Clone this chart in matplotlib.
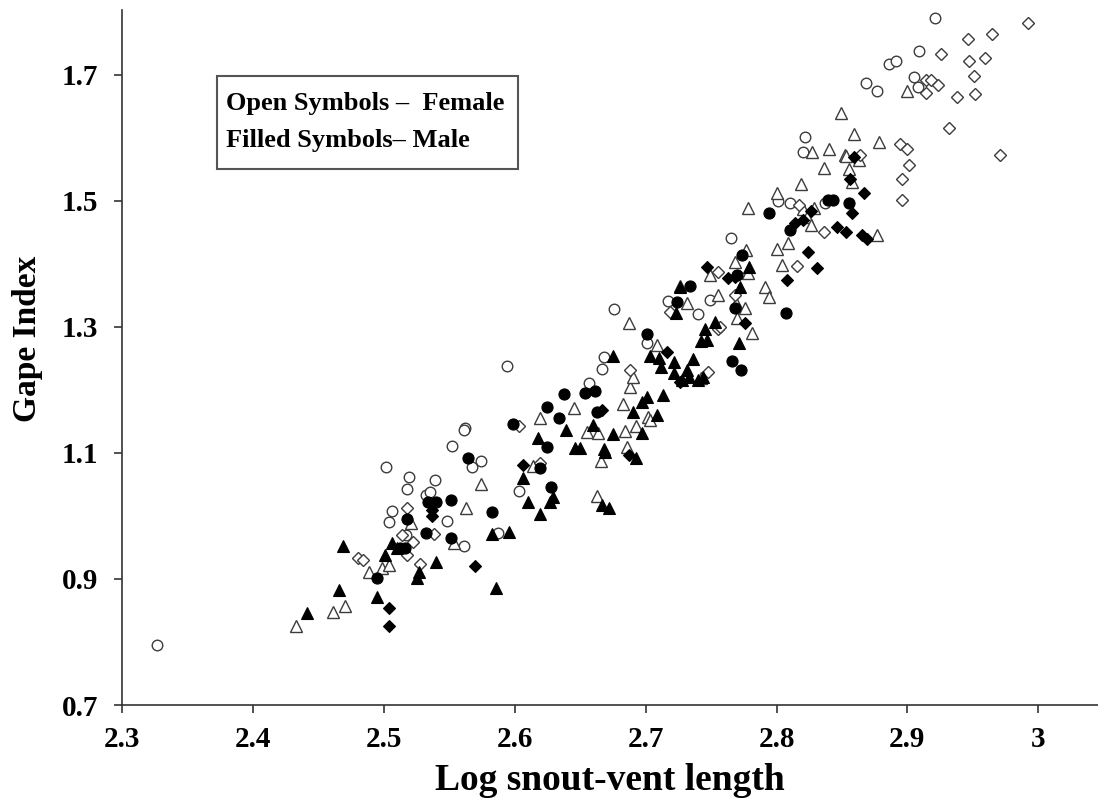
import matplotlib
matplotlib.use("Agg")
import matplotlib.pyplot as plt
from matplotlib.patches import Rectangle

# ---- data (log SVL, gape index) ----
fem_circle_x = [2.327, 2.502, 2.519, 2.518, 2.539, 2.532, 2.535, 2.506, 2.504, 2.517,
                2.548, 2.561, 2.552, 2.562, 2.561, 2.567, 2.574, 2.594, 2.603, 2.587,
                2.667, 2.657, 2.676, 2.668, 2.717, 2.701, 2.740, 2.749, 2.765, 2.801,
                2.810, 2.837, 2.822, 2.820, 2.868, 2.877, 2.886, 2.891, 2.905, 2.908,
                2.909, 2.921]
fem_circle_y = [0.795, 1.078, 1.062, 1.043, 1.057, 1.033, 1.038, 1.008, 0.990, 0.970,
                0.992, 0.952, 1.111, 1.140, 1.136, 1.078, 1.087, 1.238, 1.040, 0.973,
                1.233, 1.211, 1.328, 1.252, 1.341, 1.275, 1.321, 1.343, 1.441, 1.500,
                1.497, 1.497, 1.601, 1.578, 1.687, 1.674, 1.717, 1.722, 1.697, 1.681,
                1.738, 1.790]

fem_tri_x = [2.433, 2.461, 2.470, 2.489, 2.499, 2.504, 2.521, 2.554, 2.563, 2.574,
             2.619, 2.645, 2.614, 2.655, 2.664, 2.663, 2.666, 2.683, 2.684, 2.686,
             2.688, 2.690, 2.693, 2.687, 2.702, 2.703, 2.709, 2.726, 2.732, 2.755,
             2.742, 2.749, 2.768, 2.777, 2.778, 2.769, 2.776, 2.770, 2.781, 2.778,
             2.800, 2.819, 2.820, 2.829, 2.823, 2.826, 2.809, 2.800, 2.804, 2.791,
             2.794, 2.849, 2.859, 2.878, 2.827, 2.840, 2.852, 2.853, 2.863, 2.836,
             2.855, 2.858, 2.877, 2.900]
fem_tri_y = [0.825, 0.848, 0.857, 0.911, 0.917, 0.922, 0.989, 0.957, 1.013, 1.051,
             1.155, 1.171, 1.079, 1.133, 1.132, 1.032, 1.087, 1.178, 1.135, 1.109,
             1.205, 1.221, 1.143, 1.306, 1.157, 1.152, 1.271, 1.365, 1.338, 1.351,
             1.219, 1.382, 1.403, 1.422, 1.386, 1.338, 1.330, 1.314, 1.290, 1.489,
             1.513, 1.527, 1.487, 1.489, 1.474, 1.462, 1.433, 1.424, 1.398, 1.363,
             1.348, 1.640, 1.606, 1.593, 1.578, 1.582, 1.573, 1.571, 1.565, 1.552,
             1.551, 1.530, 1.446, 1.674]

fem_dia_x = [2.480, 2.484, 2.518, 2.514, 2.538, 2.522, 2.518, 2.528, 2.603, 2.619,
             2.688, 2.719, 2.755, 2.748, 2.817, 2.836, 2.816, 2.768, 2.757, 2.755,
             2.864, 2.894, 2.900, 2.901, 2.896, 2.896, 2.914, 2.918, 2.923, 2.914,
             2.926, 2.946, 2.965, 2.992, 2.947, 2.959, 2.951, 2.938, 2.952, 2.932,
             2.971]
fem_dia_y = [0.933, 0.930, 1.013, 0.970, 0.971, 0.959, 0.938, 0.924, 1.143, 1.084,
             1.232, 1.324, 1.297, 1.228, 1.494, 1.451, 1.397, 1.351, 1.300, 1.387,
             1.573, 1.590, 1.582, 1.557, 1.535, 1.501, 1.692, 1.692, 1.684, 1.671,
             1.733, 1.757, 1.765, 1.782, 1.722, 1.727, 1.698, 1.665, 1.670, 1.616,
             1.573]

male_circle_x = [2.495, 2.518, 2.532, 2.534, 2.540, 2.551, 2.551, 2.564, 2.583, 2.599,
                 2.619, 2.625, 2.628, 2.634, 2.625, 2.638, 2.654, 2.661, 2.663, 2.701,
                 2.724, 2.734, 2.766, 2.773, 2.774, 2.770, 2.768, 2.807, 2.794, 2.810,
                 2.839, 2.843, 2.855, 2.512, 2.516]
male_circle_y = [0.902, 0.995, 0.973, 1.022, 1.022, 0.965, 1.025, 1.092, 1.006, 1.146,
                 1.076, 1.109, 1.046, 1.155, 1.173, 1.194, 1.195, 1.198, 1.165, 1.289,
                 1.340, 1.365, 1.246, 1.232, 1.414, 1.382, 1.330, 1.322, 1.481, 1.454,
                 1.501, 1.501, 1.497, 0.949, 0.949]

male_tri_x = [2.441, 2.466, 2.469, 2.495, 2.501, 2.506, 2.510, 2.527, 2.525, 2.540,
              2.583, 2.586, 2.596, 2.606, 2.610, 2.618, 2.619, 2.627, 2.629, 2.639,
              2.646, 2.650, 2.660, 2.668, 2.667, 2.672, 2.675, 2.690, 2.693, 2.697,
              2.701, 2.713, 2.709, 2.697, 2.669, 2.703, 2.675, 2.710, 2.712, 2.722,
              2.736, 2.722, 2.728, 2.732, 2.733, 2.740, 2.744, 2.753, 2.745, 2.742,
              2.747, 2.771, 2.723, 2.726, 2.779, 2.772]
male_tri_y = [0.846, 0.883, 0.952, 0.871, 0.938, 0.957, 0.949, 0.911, 0.902, 0.927,
              0.971, 0.886, 0.975, 1.060, 1.022, 1.124, 1.003, 1.022, 1.030, 1.136,
              1.108, 1.108, 1.144, 1.106, 1.017, 1.013, 1.130, 1.165, 1.092, 1.181,
              1.189, 1.192, 1.160, 1.132, 1.102, 1.254, 1.254, 1.251, 1.236, 1.244,
              1.249, 1.227, 1.216, 1.232, 1.221, 1.216, 1.221, 1.308, 1.297, 1.278,
              1.279, 1.275, 1.322, 1.363, 1.395, 1.363]

male_dia_x = [2.537, 2.537, 2.570, 2.504, 2.504, 2.606, 2.667, 2.687, 2.716, 2.726,
              2.747, 2.763, 2.768, 2.776, 2.808, 2.814, 2.820, 2.826, 2.831, 2.824,
              2.846, 2.853, 2.858, 2.856, 2.859, 2.865, 2.867, 2.869]
male_dia_y = [1.009, 1.000, 0.921, 0.854, 0.825, 1.081, 1.168, 1.097, 1.260, 1.213,
              1.395, 1.378, 1.379, 1.306, 1.374, 1.465, 1.470, 1.484, 1.394, 1.419,
              1.459, 1.451, 1.481, 1.535, 1.570, 1.446, 1.513, 1.440]

x_ticks = [2.3, 2.4, 2.5, 2.6, 2.7, 2.8, 2.9, 3.0]
x_tick_labels = ["2.3", "2.4", "2.5", "2.6", "2.7", "2.8", "2.9", "3"]
y_ticks = [0.7, 0.9, 1.1, 1.3, 1.5, 1.7]
y_tick_labels = ["0.7", "0.9", "1.1", "1.3", "1.5", "1.7"]

SERIF = ["Liberation Serif", "DejaVu Serif"]
plt.rcParams["font.family"] = SERIF
plt.rcParams["font.weight"] = "bold"

fig = plt.figure(figsize=(10.98, 8.08), dpi=100)
ax = fig.add_axes([122 / 1098, 1 - 705 / 808, (1098 - 122) / 1098, (705 - 10) / 808])

edge = "#3c3c3c"
open_kw = dict(linestyle="none", markerfacecolor="white", markeredgecolor=edge, markeredgewidth=1.0)
fill_kw = dict(linestyle="none", markerfacecolor="black", markeredgecolor="black", markeredgewidth=0.8)

ax.plot(fem_circle_x, fem_circle_y, marker="o", markersize=7.6, **open_kw)
ax.plot(fem_tri_x, fem_tri_y, marker="^", markersize=8.2, **open_kw)
ax.plot(fem_dia_x, fem_dia_y, marker="D", markersize=6.6, **open_kw)
ax.plot(male_circle_x, male_circle_y, marker="o", markersize=8.0, **fill_kw)
ax.plot(male_tri_x, male_tri_y, marker="^", markersize=8.2, **fill_kw)
ax.plot(male_dia_x, male_dia_y, marker="D", markersize=6.4, **fill_kw)

ax.set_xlim(2.3, 3.0456)
ax.set_ylim(0.7, 1.803)
ax.set_xticks(x_ticks)
ax.set_xticklabels(x_tick_labels)
ax.set_yticks(y_ticks)
ax.set_yticklabels(y_tick_labels)
for s in ("top", "right"):
    ax.spines[s].set_visible(False)
for s in ("left", "bottom"):
    ax.spines[s].set_color("#333333")
    ax.spines[s].set_linewidth(1.2)
ax.tick_params(axis="both", direction="out", length=6, width=1.2, color="#333333",
               labelsize=21)
ax.tick_params(axis="x", pad=9)
ax.tick_params(axis="y", pad=11)
for lab in ax.get_xticklabels() + ax.get_yticklabels():
    lab.set_fontweight("bold")

ax.set_xlabel("Log snout-vent length", fontsize=27, fontweight="bold", labelpad=7)
ax.set_ylabel("Gape Index", fontsize=24, fontweight="bold", labelpad=13)
ax.yaxis.set_label_coords(-0.081, 0.527)

# legend-like annotation box
fig.patches.append(Rectangle((217 / 1098, 1 - 169 / 808), (518 - 217) / 1098, (169 - 76) / 808,
                             transform=fig.transFigure, fill=False, edgecolor="#555555",
                             linewidth=1.5))
fig.text(226 / 1098, 1 - 110 / 808, "Open Symbols \u2013  Female", fontsize=19,
         fontweight="bold", ha="left", va="baseline")
fig.text(226 / 1098, 1 - 147 / 808, "Filled Symbols\u2013 Male", fontsize=19,
         fontweight="bold", ha="left", va="baseline")

fig.savefig("out.png", dpi=100)
